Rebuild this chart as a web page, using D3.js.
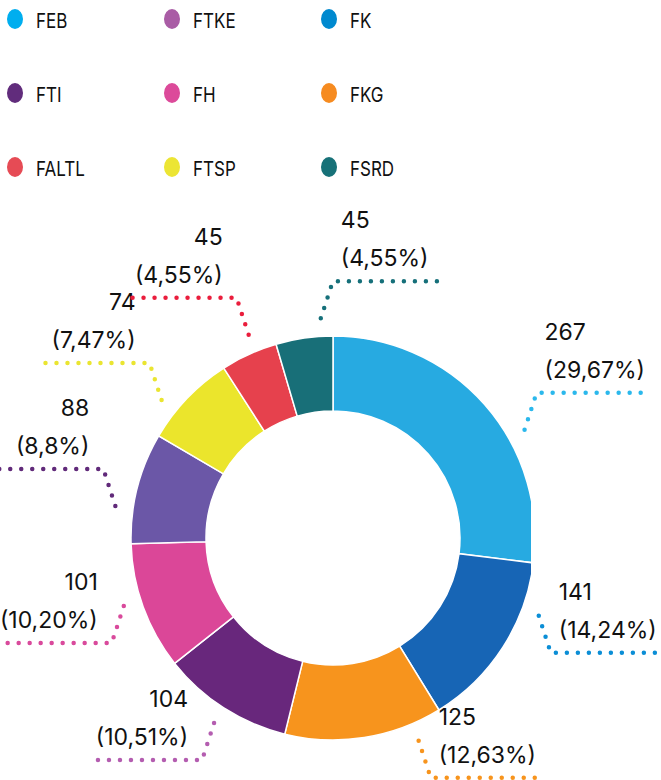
<!DOCTYPE html>
<html>
<head>
<meta charset="utf-8">
<script src="https://cdn.jsdelivr.net/npm/d3@7"></script>
<style>
  body { margin: 0; background: #fff; }
  svg { display: block; }
</style>
</head>
<body>
<svg id="chart" width="661" height="780"></svg>
<script>

/***************************** Data *****************************/

// slices, clockwise from 12 o'clock
var categories  = ["FEB", "FK", "FKG", "FTKE", "FH", "FTI", "FTSP", "FALTL", "FSRD"];
var values      = [267, 141, 125, 104, 101, 88, 74, 45, 45];
var pct_labels  = ["(29,67%)", "(14,24%)", "(12,63%)", "(10,51%)", "(10,20%)", "(8,8%)", "(7,47%)", "(4,55%)", "(4,55%)"];

var slice_colors = ["#27aae1", "#1765b5", "#f7941d", "#68277c", "#db4798", "#6b57a7", "#ebe52c", "#e6414d", "#186f78"];
var line_colors  = ["#2bb8ec", "#0b8ed6", "#f7941d", "#b45db0", "#d94a9c", "#612a7a", "#eae531", "#ea1d3c", "#16707a"];

// legend, row by row
var legend_names  = ["FEB", "FTKE", "FK", "FTI", "FH", "FKG", "FALTL", "FTSP", "FSRD"];
var legend_colors = ["#00aeef", "#a95ca5", "#0089cf", "#612c7c", "#dc4a9a", "#f68b20", "#e64b55", "#ece534", "#177178"];

// leader line angle nudge off the slice middle (degrees), layout only
var label_nudge = [12, -12, -14, 0, 2, -6, -5, 2, 5];

/***************************** Setup *****************************/

var svg = d3.select("#chart");
var cx = 333, cy = 538, R = 202, r = 127;

var slices = categories.map(function(c, i){
  return { name: c, value: values[i], pct: pct_labels[i], fill: slice_colors[i], line: line_colors[i], nudge: label_nudge[i] };
});

/***************************** Legend *****************************/

var col_x = d3.scalePoint().domain([0, 1, 2]).range([15, 329]);
var row_y = d3.scalePoint().domain([0, 1, 2]).range([19, 167]);

var legend = svg.append("g").selectAll("g")
  .data(legend_names)
  .enter().append("g")
  .attr("transform", function(d, i){ return "translate(" + col_x(i % 3) + "," + row_y(Math.floor(i / 3)) + ")"; });

legend.append("ellipse")
  .attr("rx", 8).attr("ry", 10)
  .attr("fill", function(d, i){ return legend_colors[i]; });

legend.append("text")
  .attr("transform", "translate(21,9) scale(1,1.2)")
  .style("font-family", "Inter, 'Liberation Sans', sans-serif")
  .style("font-size", "17px")
  .style("fill", "#111")
  .text(function(d){ return d; });

/***************************** Donut *****************************/

var pie = d3.pie().sort(null).value(function(d){ return d.value; });
var arc = d3.arc().innerRadius(r).outerRadius(R);
var arcs = pie(slices);

svg.append("clipPath").attr("id", "donut_clip")
  .append("rect").attr("x", cx - R - 5).attr("y", cy - R - 5).attr("width", 2 * R + 1).attr("height", 2 * R + 10);

var donut = svg.append("g")
  .attr("clip-path", "url(#donut_clip)")
  .append("g")
  .attr("transform", "translate(" + cx + "," + cy + ")");

donut.selectAll("path")
  .data(arcs)
  .enter().append("path")
  .attr("d", arc)
  .attr("fill", function(d){ return d.data.fill; })
  .attr("stroke", "#fff")
  .attr("stroke-width", 1.5);

/***************************** Leader lines + labels *****************************/

var label_r = R + 18, rise = 37, run = 12, tail = 110;

var labels = svg.append("g").attr("transform", "translate(" + cx + "," + cy + ")");

arcs.forEach(function(d){
  var a = (d.startAngle + d.endAngle) / 2 + d.data.nudge * Math.PI / 180;
  var sx = label_r * Math.sin(a), sy = -label_r * Math.cos(a);
  var right = Math.sin(a) >= -0.2;           // near-top slices go right
  var up = Math.cos(a) > 0.05;
  var ex = sx + (right ? run : -run);
  var ey = sy + (up ? -rise : rise);
  var tx = ex + (right ? tail : -tail);

  labels.append("path")
    .attr("d", d3.line()([[sx, sy], [ex, ey], [tx, ey]]))
    .attr("fill", "none")
    .attr("stroke", d.data.line)
    .attr("stroke-width", 4.5)
    .attr("stroke-linecap", "round")
    .attr("stroke-dasharray", "0 11");

  var g = labels.append("g")
    .attr("transform", "translate(" + (right ? ex + 8 : ex - 14) + "," + (ey - 15) + ")")
    .style("font-family", "Inter, 'Liberation Sans', sans-serif")
    .style("font-size", "23px")
    .style("fill", "#111")
    .attr("text-anchor", right ? "start" : "end");

  g.append("text").attr("y", -38).text(d.data.value);
  g.append("text").attr("y", 0).text(d.data.pct);
});

</script>
</body>
</html>
